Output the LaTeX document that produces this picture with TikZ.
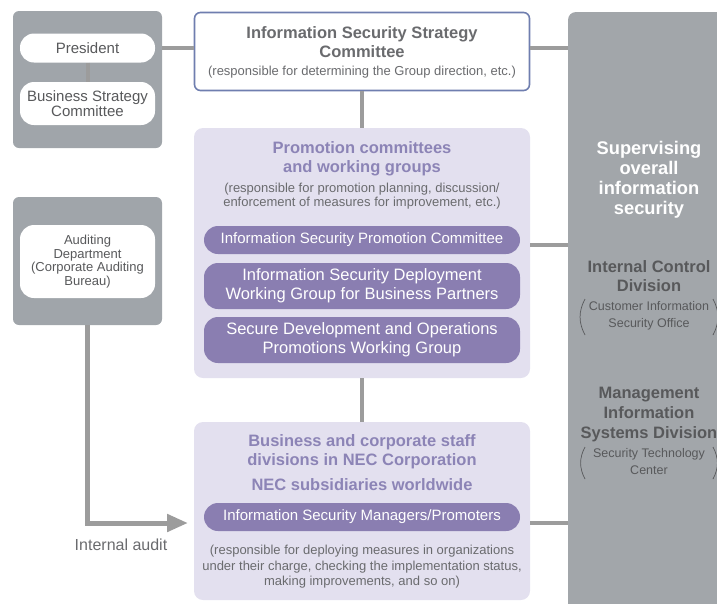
\documentclass[tikz,border=0pt]{standalone}
\usepackage{fontspec}
\setmainfont{Liberation Sans}
\usetikzlibrary{arrows.meta}

\definecolor{panelgray}{HTML}{A0A5AA}
\definecolor{columngray}{HTML}{A2A6AA}
\definecolor{lavfill}{HTML}{E3E0EF}
\definecolor{pillpurple}{HTML}{8A7EB1}
\definecolor{lavtext}{HTML}{8C84B6}
\definecolor{frameblue}{HTML}{6F7EAF}
\definecolor{darktext}{HTML}{58595B}
\definecolor{softtext}{HTML}{6A6B6E}
\definecolor{linkgray}{HTML}{9C9C9C}

\newcommand{\setfs}[2]{\fontsize{#1}{#2}\selectfont}

\tikzset{
  panel/.style={fill=panelgray, rounded corners=6pt, inner sep=0pt},
  whitepill/.style={fill=white, rounded corners=14pt, inner sep=0pt, align=center, text=darktext},
  lavpanel/.style={fill=lavfill, rounded corners=9pt, inner sep=0pt, minimum width=336pt},
  purplepill/.style={fill=pillpurple, rounded corners=14pt, inner sep=0pt, align=center, text=white, minimum width=316pt},
  headline/.style={align=center, inner sep=0pt, font=\setfs{16.5}{19}\bfseries},
  remark/.style={align=center, inner sep=0pt, text=softtext, font=\setfs{13}{14.5}},
  office/.style={align=center, inner sep=0pt, text=darktext, font=\setfs{12.5}{17.5}},
  bracket/.style={draw=darktext, line width=0.7pt},
  link/.style={draw=linkgray, line width=4pt},
  auditlink/.style={draw=linkgray, line width=5pt, -{Triangle[length=21pt, width=17pt]}}
}

\begin{document}
\begin{tikzpicture}[x=1pt, y=-1pt]
  \useasboundingbox (0,0) rectangle (717,603);
  \clip (0,0) rectangle (717,603);

  \node[fill=columngray, rounded corners=8pt, minimum width=180, minimum height=620] (col) at (658,322) {};

  \node[panel, minimum width=149, minimum height=137] (topgrp) at (87.5,79.5) {};
  \node[whitepill, minimum width=135, minimum height=29, font=\setfs{15}{17}] (pres) at (87.5,48) {President};
  \node[whitepill, minimum width=135, minimum height=43, font=\setfs{15}{13.5}] (bsc) at (87.5,103.5) {Business Strategy\\Committee};
  \draw[link] (pres) -- (bsc);

  \node[fill=white, draw=frameblue, line width=1.6pt, rounded corners=6pt, minimum width=335, minimum height=78] (issc) at (362,51.5) {};
  \node[headline, text=softtext] (issctitle) at (362,42.5) {Information Security Strategy\\Committee};
  \node[remark] (isscnote) at (362,72) {(responsible for determining the Group direction, etc.)};
  \draw[link] (topgrp.east |- pres) -- (pres -| issc.west);
  \draw[link] (issc.east |- pres) -- (pres -| col.west);

  \node[lavpanel, minimum height=250] (promo) at (362,253) {};
  \node[headline, text=lavtext] (promotitle) at (362,159) {Promotion committees\\and working groups};
  \node[remark] (promonote) at (362,196) {(responsible for promotion planning, discussion/\\enforcement of measures for improvement, etc.)};
  \node[purplepill, minimum height=28, font=\setfs{15}{17}] (ispc) at (362,240) {Information Security Promotion Committee};
  \node[purplepill, minimum height=46, font=\setfs{16.5}{19}] (isdwg) at (362,286) {Information Security Deployment\\Working Group for Business Partners};
  \node[purplepill, minimum height=46, font=\setfs{16.5}{19}] (sdowg) at (362,340) {Secure Development and Operations\\Promotions Working Group};
  \draw[link] (issc) -- (promo);
  \draw[link] ([yshift=8pt]promo.east) -- ([yshift=8pt]promo.east -| col.west);

  \node[lavpanel, minimum height=178] (biz) at (362,511) {};
  \node[headline, text=lavtext] (biztitle) at (362,451.5) {Business and corporate staff\\divisions in NEC Corporation};
  \node[headline, text=lavtext] (bizsubs) at (362,485) {NEC subsidiaries worldwide};
  \node[purplepill, minimum height=28, font=\setfs{15}{17}] (mgr) at (362,517) {Information Security Managers/Promoters};
  \node[remark, font=\setfs{13}{15.5}] (biznote) at (362,567) {(responsible for deploying measures in organizations\\under their charge, checking the implementation status,\\making improvements, and so on)};
  \draw[link] (promo) -- (biz);
  \draw[link] ([yshift=-6pt]biz.east |- mgr) -- ([yshift=-6pt]mgr -| col.west);

  \node[panel, minimum width=149, minimum height=128] (audgrp) at (87.5,261) {};
  \node[whitepill, minimum width=135, minimum height=73, font=\setfs{13}{13.5}] (aud) at (87.5,261.5) {Auditing\\Department\\(Corporate Auditing\\Bureau)};
  \coordinate (audend) at (188,523);
  \draw[auditlink] (audgrp.south) |- (audend);
  \node[inner sep=0pt, text=softtext, font=\setfs{16}{18}] (auditlbl) at (121,545) {Internal audit};

  \node[align=center, inner sep=0pt, text=white, font=\setfs{18.3}{20}\bfseries] (supv) at (649,180) {Supervising\\overall\\information\\security};
  \node[headline, text=darktext] (icd) at (649,276.5) {Internal Control\\Division};
  \node[office] (cisoff) at (649,316) {Customer Information\\Security Office};
  \draw[bracket] (585,299) to[bend right=28] (585,335);
  \draw[bracket] (713,299) to[bend left=28] (713,335);
  \node[headline, text=darktext, font=\setfs{16.5}{20}\bfseries] (misd) at (649,415) {Management\\Information\\Systems Division};
  \node[office, font=\setfs{12.5}{17}] (stc) at (649,461.5) {Security Technology\\Center};
  \draw[bracket] (585,447) to[bend right=28] (585,479);
  \draw[bracket] (713,447) to[bend left=28] (713,479);
\end{tikzpicture}
\end{document}
